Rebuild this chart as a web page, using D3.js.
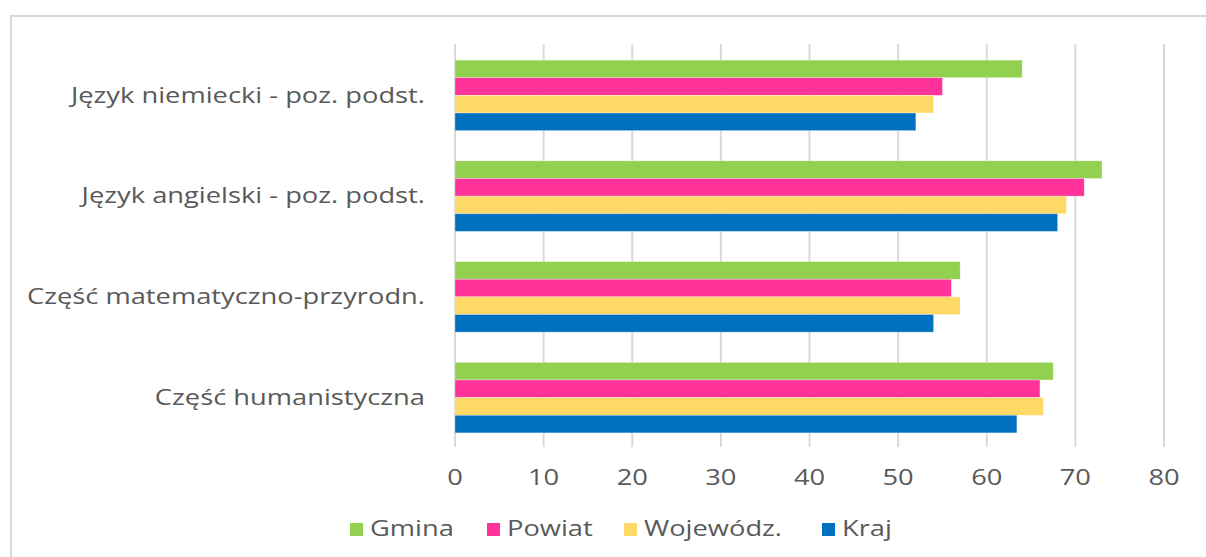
<!DOCTYPE html>
<html>
<head>
<meta charset="utf-8">
<script src="https://cdn.jsdelivr.net/npm/d3@7"></script>
<style>
  body { margin: 0; background: #fff; }
  text { font-family: "Open Sans", sans-serif; fill: #595959; }
</style>
</head>
<body>
<figure id="wyniki" style="margin:0"></figure>
<script>
// categories, top to bottom
var categories = ["Język niemiecki - poz. podst.", "Język angielski - poz. podst.",
                  "Część matematyczno-przyrodn.", "Część humanistyczna"];
var seriesNames = ["Gmina", "Powiat", "Wojewódz.", "Kraj"];
var seriesColors = ["#92D050", "#FF3399", "#FFD966", "#0070C0"];
// values per series, same order as categories
var gmina = [64, 73, 57, 67.5];
var powiat = [55, 71, 56, 66];
var wojewodz = [54, 69, 57, 66.4];
var kraj = [52, 68, 54, 63.4];
var xTicks = [0, 10, 20, 30, 40, 50, 60, 70, 80];

var allSeries = [gmina, powiat, wojewodz, kraj];

var width = 1206, height = 557;
var sx = 1.3; // text in the picture is stretched horizontally
var fontSize = "21px";

var svg = d3.select("figure#wyniki")
    .append("svg")
    .attr("width", width)
    .attr("height", height);

// chart frame (left and top border)
svg.append("path")
    .attr("d", "M11,557 L11,16 L1206,16")
    .attr("fill", "none")
    .attr("stroke", "#d9d9d9")
    .attr("stroke-width", 2);

var xScale = d3.scaleLinear()
    .domain([0, 80])
    .range([455, 1164]);

var yScale = d3.scaleBand()
    .domain(categories)
    .range([45, 448])
    .paddingInner(0.3)
    .paddingOuter(0.15);

var inner = d3.scaleBand()
    .domain(seriesNames)
    .range([0, yScale.bandwidth()]);

// gridlines
svg.append("g")
    .selectAll("line")
    .data(xTicks)
    .enter()
    .append("line")
    .attr("x1", function(d) { return xScale(d); })
    .attr("x2", function(d) { return xScale(d); })
    .attr("y1", 44)
    .attr("y2", 447)
    .attr("stroke", "#d9d9d9")
    .attr("stroke-width", 2);

// bars, one group per series
var groups = svg.selectAll("g.series")
    .data(allSeries)
    .enter()
    .append("g")
    .attr("class", "series")
    .style("fill", function(d, i) { return seriesColors[i]; });

groups.selectAll("rect")
    .data(function(d, i) { return d.map(function(v, j) { return {v: v, cat: categories[j], s: seriesNames[i]}; }); })
    .enter()
    .append("rect")
    .attr("x", xScale(0))
    .attr("y", function(d) { return yScale(d.cat) + inner(d.s); })
    .attr("width", function(d) { return xScale(d.v) - xScale(0); })
    .attr("height", inner.bandwidth())
    .attr("stroke", "#fff")
    .attr("stroke-opacity", 0.5)
    .attr("stroke-width", 0.6);

// category labels
svg.append("g")
    .selectAll("text")
    .data(categories)
    .enter()
    .append("text")
    .attr("transform", function(d) {
        return "translate(425," + (yScale(d) + yScale.bandwidth() / 2) + ") scale(" + sx + ",1)";
    })
    .attr("text-anchor", "end")
    .attr("dy", "0.35em")
    .style("font-size", fontSize)
    .text(function(d) { return d; });

// x tick labels
svg.append("g")
    .selectAll("text")
    .data(xTicks)
    .enter()
    .append("text")
    .attr("transform", function(d) { return "translate(" + xScale(d) + ",478) scale(" + sx + ",1)"; })
    .attr("text-anchor", "middle")
    .attr("dy", "0.35em")
    .style("font-size", fontSize)
    .text(function(d) { return d; });

// legend
var legendX = [350, 487, 624, 822];
var legend = svg.append("g")
    .selectAll("g")
    .data(seriesNames)
    .enter()
    .append("g")
    .attr("transform", function(d, i) { return "translate(" + legendX[i] + ",529)"; });

legend.append("rect")
    .attr("x", 0)
    .attr("y", -6)
    .attr("width", 13)
    .attr("height", 13)
    .attr("fill", function(d, i) { return seriesColors[i]; });

legend.append("text")
    .attr("transform", "translate(20,0) scale(" + sx + ",1)")
    .attr("dy", "0.35em")
    .style("font-size", fontSize)
    .text(function(d) { return d; });
</script>
</body>
</html>
